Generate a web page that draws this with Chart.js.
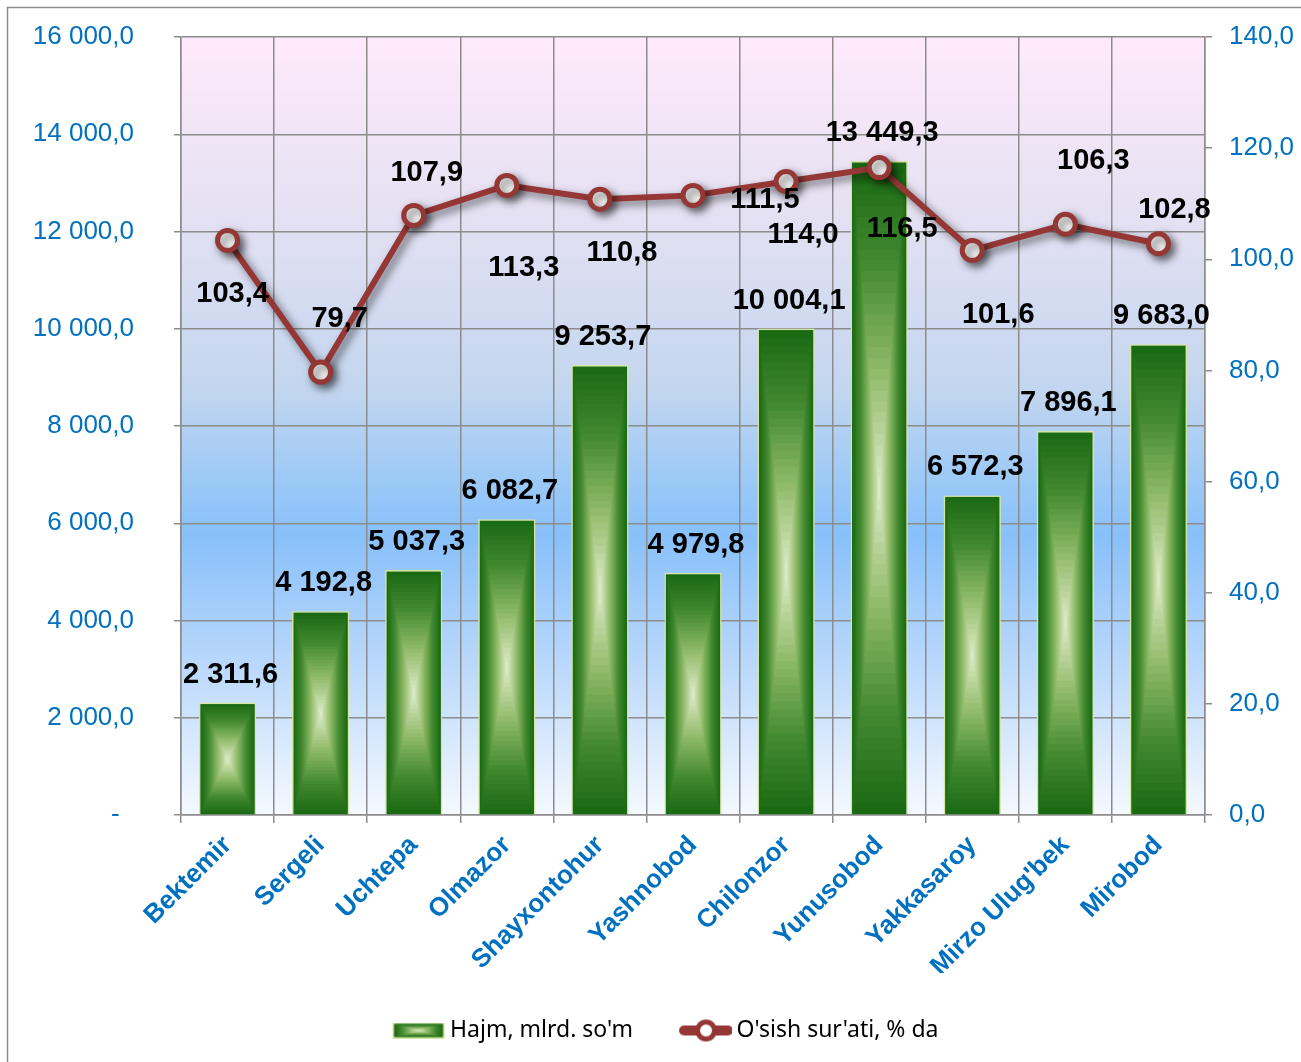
<!DOCTYPE html>
<html>
<head>
<meta charset="utf-8">
<script src="https://cdn.jsdelivr.net/npm/chart.js@4.4.0/dist/chart.umd.min.js"></script>
<style>
  html, body { margin: 0; padding: 0; background: #fff; }
</style>
</head>
<body>
<canvas id="grafik" width="1301" height="1062"></canvas>
<script>
// Ma'lumotlar
const tumanlar = ['Bektemir', 'Sergeli', 'Uchtepa', 'Olmazor', 'Shayxontohur', 'Yashnobod',
                  'Chilonzor', 'Yunusobod', 'Yakkasaroy', "Mirzo Ulug'bek", 'Mirobod'];
const hajm = [2311.6, 4192.8, 5037.3, 6082.7, 9253.7, 4979.8, 10004.1, 13449.3, 6572.3, 7896.1, 9683.0];
const osish = [103.4, 79.7, 107.9, 113.3, 110.8, 111.5, 114.0, 116.5, 101.6, 106.3, 102.8];
const seriyaNomlari = ["Hajm, mlrd. so'm", "O'sish sur'ati, % da"];

// O'qlar chegaralari
const chapOq = { min: 0, max: 16000, qadam: 2000 };
const ongOq = { min: 0, max: 140, qadam: 20 };

// Foiz yorliqlarining nuqtaga nisbatan siljishi (px)
const foizSiljish = [[5, 54], [19, -53], [13, -42], [17, 83], [22, 54], [72, 5],
                     [17, 54], [23, 61], [26, 65], [28, -63], [16, -34]];

const KOK = '#0070C0';
const QIZIL = '#953735';
const TOR = '#8c8c8c';

// Son formati: "16 000,0"
function raqam(v, d) {
    const s = Math.abs(v).toFixed(d).split('.');
    const butun = s[0].replace(/\B(?=(\d{3})+(?!\d))/g, ' ');
    return butun + (d ? ',' + s[1] : '');
}

// Yashil gradient ranglari (tashqaridan markazga)
const yashilBosqich = [[0, [27, 106, 20]], [0.3, [68, 138, 48]], [0.65, [150, 190, 110]], [1, [226, 237, 206]]];
function yashil(f) {
    for (let i = 1; i < yashilBosqich.length; i++) {
        const [f1, c1] = yashilBosqich[i];
        const [f0, c0] = yashilBosqich[i - 1];
        if (f <= f1) {
            const t = (f - f0) / (f1 - f0);
            return 'rgb(' + c0.map((c, k) => Math.round(c + (c1[k] - c) * t)).join(',') + ')';
        }
    }
    return 'rgb(226,237,206)';
}

function tortburchakGradient(ctx, l, t, w, h) {
    const N = 30;
    for (let k = 0; k < N; k++) {
        const f = k / N;
        const ix = f * w / 2, iy = f * h / 2;
        ctx.fillStyle = yashil(f);
        ctx.fillRect(l + ix, t + iy, w - 2 * ix, h - 2 * iy);
    }
}

// Legend belgilari (chap qismida chizilgan, matnga yaqin turishi uchun)
const ustunBelgi = document.createElement('canvas');
ustunBelgi.width = 60; ustunBelgi.height = 16;
(function () {
    const c = ustunBelgi.getContext('2d');
    c.fillStyle = '#d5e6a6';
    c.fillRect(7, 0, 52, 16);
    tortburchakGradient(c, 8.5, 1.5, 49, 13);
})();

const chiziqBelgi = document.createElement('canvas');
chiziqBelgi.width = 60; chiziqBelgi.height = 26;
(function () {
    const c = chiziqBelgi.getContext('2d');
    c.strokeStyle = QIZIL;
    c.lineWidth = 10;
    c.lineCap = 'round';
    c.beginPath(); c.moveTo(12, 13); c.lineTo(56, 13); c.stroke();
    c.beginPath(); c.arc(34, 13, 8.5, 0, Math.PI * 2);
    c.fillStyle = '#fff'; c.fill();
    c.lineWidth = 5; c.stroke();
})();

// Fon, ramka va ustun gradienti
const bezak = {
    id: 'bezak',
    beforeDraw(chart) {
        const { ctx, chartArea: a } = chart;
        ctx.save();
        ctx.strokeStyle = TOR;
        ctx.lineWidth = 1.5;
        ctx.beginPath();
        ctx.moveTo(7.5, chart.height);
        ctx.lineTo(7.5, 7.5);
        ctx.lineTo(chart.width, 7.5);
        ctx.stroke();
        const g = ctx.createLinearGradient(0, a.top, 0, a.bottom);
        g.addColorStop(0, '#ffeafa');
        g.addColorStop(0.25, '#e1e0f2');
        g.addColorStop(0.45, '#c3d6ef');
        g.addColorStop(0.58, '#99c8f7');
        g.addColorStop(0.64, '#88c0fa');
        g.addColorStop(0.8, '#b8d7fb');
        g.addColorStop(1, '#f5f9ff');
        ctx.fillStyle = g;
        ctx.fillRect(a.left, a.top, a.right - a.left, a.bottom - a.top);
        ctx.restore();
    },
    beforeDatasetDraw(chart, args) {
        if (args.index !== 1) return;
        const ctx = chart.ctx;
        ctx.save();
        ctx.shadowColor = 'rgba(0,0,0,0.55)';
        ctx.shadowBlur = 8;
        ctx.shadowOffsetX = 4;
        ctx.shadowOffsetY = 4;
    },
    afterDatasetDraw(chart, args) {
        const ctx = chart.ctx;
        if (args.index === 1) { ctx.restore(); return; }
        if (args.index !== 0) return;
        ctx.save();
        args.meta.data.forEach(el => {
            const { x, y, base, width } = el.getProps(['x', 'y', 'base', 'width'], true);
            tortburchakGradient(ctx, x - width / 2 + 1.5, y + 1.5, width - 3, base - y - 1.5);
        });
        ctx.restore();
    },
    afterDatasetsDraw(chart) {
        const ctx = chart.ctx;
        ctx.save();
        ctx.font = 'bold 29px "Liberation Sans", Arial, sans-serif';
        ctx.fillStyle = '#000';
        ctx.textAlign = 'center';
        ctx.textBaseline = 'middle';
        chart.getDatasetMeta(0).data.forEach((el, i) => {
            ctx.fillText(raqam(hajm[i], 1), el.x + 3, el.y - 28);
        });
        chart.getDatasetMeta(1).data.forEach((el, i) => {
            const [dx, dy] = foizSiljish[i];
            ctx.fillText(raqam(osish[i], 1), el.x + dx, el.y + dy);
        });
        ctx.restore();
    }
};

const oqShrift = { family: '"Liberation Sans", Arial, sans-serif', size: 26 };

// Yon o'qlar: kenglik qat'iy, yuqori/pastki zaxira faqat yorliq yarmi
function yonOqFit(kenglik) {
    return function (scale) {
        scale.width = kenglik;
        scale.paddingTop = 16;
        scale.paddingBottom = 16;
    };
}

new Chart(document.getElementById('grafik').getContext('2d'), {
    data: {
        labels: tumanlar,
        datasets: [
            {
                type: 'bar',
                label: seriyaNomlari[0],
                data: hajm,
                yAxisID: 'y',
                backgroundColor: '#4e9238',
                borderColor: '#d5e6a6',
                borderWidth: 2,
                borderSkipped: false,
                barPercentage: 0.615,
                categoryPercentage: 1,
                order: 1
            },
            {
                type: 'line',
                label: seriyaNomlari[1],
                data: osish,
                yAxisID: 'y1',
                borderColor: QIZIL,
                borderWidth: 6,
                pointRadius: 10,
                pointHoverRadius: 10,
                pointBorderWidth: 5,
                pointBackgroundColor: '#fff',
                pointBorderColor: QIZIL,
                tension: 0,
                order: 0
            }
        ]
    },
    options: {
        responsive: false,
        animation: false,
        layout: { padding: { top: 37, left: 30, right: 0, bottom: 10 } },
        scales: {
            x: {
                offset: true,
                grid: { offset: true, color: TOR, lineWidth: 1.5, tickLength: 8 },
                border: { color: TOR, width: 1.5 },
                ticks: {
                    autoSkip: false,
                    minRotation: 45,
                    maxRotation: 45,
                    padding: 7,
                    color: KOK,
                    font: { family: '"Liberation Sans", Arial, sans-serif', size: 26, weight: 'bold' }
                },
                afterFit(scale) {
                    scale.height = scale.chart.height - 815 - scale.chart.legend.height - 10;
                }
            },
            y: {
                position: 'left',
                min: chapOq.min,
                max: chapOq.max,
                grid: { color: TOR, lineWidth: 1.5, tickLength: 7 },
                border: { color: TOR, width: 1.5 },
                ticks: {
                    stepSize: chapOq.qadam,
                    padding: 40,
                    color: KOK,
                    font: oqShrift,
                    callback: v => v === 0 ? '-  ' : raqam(v, 1)
                },
                afterFit: yonOqFit(151)
            },
            y1: {
                position: 'right',
                min: ongOq.min,
                max: ongOq.max,
                grid: { drawOnChartArea: false, color: TOR, lineWidth: 1.5, tickLength: 7 },
                border: { color: TOR, width: 1.5 },
                ticks: {
                    stepSize: ongOq.qadam,
                    padding: 17,
                    color: KOK,
                    font: oqShrift,
                    callback: v => raqam(v, 1)
                },
                afterFit: yonOqFit(96)
            }
        },
        plugins: {
            tooltip: { enabled: false },
            legend: {
                position: 'bottom',
                labels: {
                    usePointStyle: true,
                    pointStyleWidth: 46,
                    padding: 46,
                    color: '#000',
                    font: { family: '"Noto Sans", sans-serif', size: 23 },
                    generateLabels(chart) {
                        const items = Chart.defaults.plugins.legend.labels.generateLabels(chart);
                        items.sort((a, b) => a.datasetIndex - b.datasetIndex);
                        items.forEach(it => {
                            it.pointStyle = it.datasetIndex === 0 ? ustunBelgi : chiziqBelgi;
                        });
                        return items;
                    }
                }
            }
        }
    },
    plugins: [bezak]
});
</script>
</body>
</html>
